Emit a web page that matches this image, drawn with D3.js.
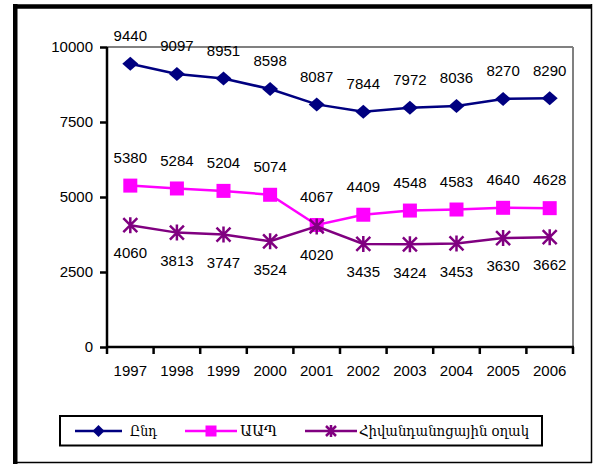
<!DOCTYPE html>
<html>
<head>
<meta charset="utf-8">
<script src="https://cdn.jsdelivr.net/npm/d3@7"></script>
<style>
  html, body { margin: 0; padding: 0; background: #fff; }
  svg { display: block; }
</style>
</head>
<body>
<svg id="chart" width="594" height="464"></svg>
<script>
const years = ["1997","1998","1999","2000","2001","2002","2003","2004","2005","2006"];
const totalValues = [9440, 9097, 8951, 8598, 8087, 7844, 7972, 8036, 8270, 8290];
const primaryValues = [5380, 5284, 5204, 5074, 4067, 4409, 4548, 4583, 4640, 4628];
const hospitalValues = [4060, 3813, 3747, 3524, 4020, 3435, 3424, 3453, 3630, 3662];
const seriesNames = ["Ընդ", "ԱԱՊ", "Հիվանդանոցային օղակ"];
const yTicks = [0, 2500, 5000, 7500, 10000];

const series = [
  { name: seriesNames[0], values: totalValues, color: "#000080", marker: "diamond", labelPos: "above" },
  { name: seriesNames[1], values: primaryValues, color: "#FF00FF", marker: "square", labelPos: "above" },
  { name: seriesNames[2], values: hospitalValues, color: "#800080", marker: "star", labelPos: "below" }
];

const svg = d3.select("#chart");
const font = "'Liberation Sans', Arial, sans-serif";

// Outer frame
svg.append("line").attr("x1", 15.25).attr("x2", 15.25).attr("y1", 4).attr("y2", 464).attr("stroke", "#000").attr("stroke-width", 4.5);
svg.append("line").attr("x1", 13).attr("x2", 592).attr("y1", 6.5).attr("y2", 6.5).attr("stroke", "#000").attr("stroke-width", 4.5);
svg.append("line").attr("x1", 591.5).attr("x2", 591.5).attr("y1", 4).attr("y2", 463).attr("stroke", "#000").attr("stroke-width", 1.5);
svg.append("line").attr("x1", 13).attr("x2", 592).attr("y1", 462.5).attr("y2", 462.5).attr("stroke", "#000").attr("stroke-width", 1.5);

const plot = { left: 107, right: 573, top: 47, bottom: 347 };

const x = d3.scaleBand().domain(years).range([plot.left, plot.right]).padding(0);
const y = d3.scaleLinear().domain([0, 10000]).range([plot.bottom, plot.top]);

// Plot area border (gray top and right)
svg.append("line").attr("x1", plot.left).attr("x2", plot.right).attr("y1", plot.top).attr("y2", plot.top).attr("stroke", "#808080").attr("stroke-width", 2);
svg.append("line").attr("x1", plot.right).attr("x2", plot.right).attr("y1", plot.top).attr("y2", plot.bottom).attr("stroke", "#808080").attr("stroke-width", 2);

// Y axis
const yAxis = svg.append("g").attr("transform", `translate(${plot.left},0)`)
  .call(d3.axisLeft(y).tickValues(yTicks).tickSize(7).tickPadding(7).tickFormat(d3.format("d")));
yAxis.select(".domain").attr("stroke", "#000").attr("stroke-width", 2.5).attr("d", `M0,${plot.bottom}V${plot.top}`);
yAxis.selectAll(".tick line").attr("stroke", "#000").attr("stroke-width", 2.5);
yAxis.selectAll(".tick text").attr("font-family", font).attr("font-size", 15).attr("fill", "#000");

// X axis
const boundaries = years.map(d => x(d)).concat([plot.right]);
const xAxis = svg.append("g").attr("transform", `translate(0,${plot.bottom})`)
  .call(d3.axisBottom(x).tickSize(0).tickPadding(18));
xAxis.select(".domain").attr("stroke", "#000").attr("stroke-width", 2.5).attr("d", `M${plot.left - 1},0H${plot.right + 1}`);
xAxis.selectAll(".tick text").attr("font-family", font).attr("font-size", 15).attr("fill", "#000");
xAxis.selectAll(".btick").data(boundaries).enter().append("line")
  .attr("x1", d => d).attr("x2", d => d).attr("y1", 0).attr("y2", 7)
  .attr("stroke", "#000").attr("stroke-width", 2.5);

// Marker drawing
function drawMarker(g, type, color, cx, cy) {
  if (type === "diamond") {
    g.append("path").attr("d", `M${cx},${cy - 7}L${cx + 8},${cy}L${cx},${cy + 7}L${cx - 8},${cy}Z`).attr("fill", color);
  } else if (type === "square") {
    const s = 7;
    g.append("rect").attr("x", cx - s).attr("y", cy - s).attr("width", 2 * s).attr("height", 2 * s).attr("fill", color);
  } else {
    const s = 7;
    g.append("path").attr("d", `M${cx - s},${cy - s}L${cx + s},${cy + s}M${cx - s},${cy + s}L${cx + s},${cy - s}M${cx},${cy - s - 1}L${cx},${cy + s + 1}`)
      .attr("stroke", color).attr("stroke-width", 2.5).attr("fill", "none");
  }
}

const cx = d => x(d) + x.bandwidth() / 2;

series.forEach(s => {
  const g = svg.append("g");
  const line = d3.line().x((v, i) => cx(years[i])).y(v => y(v));
  g.append("path").attr("d", line(s.values)).attr("fill", "none").attr("stroke", s.color).attr("stroke-width", 2.5);
  s.values.forEach((v, i) => drawMarker(g, s.marker, s.color, cx(years[i]), y(v)));
});

// Labels on top
series.forEach(s => {
  svg.append("g").selectAll("text").data(s.values).enter().append("text")
    .attr("x", (v, i) => cx(years[i]))
    .attr("y", v => y(v) + (s.labelPos === "above" ? -28 : 28))
    .attr("dy", "0.35em")
    .attr("text-anchor", "middle")
    .attr("font-family", font).attr("font-size", 15).attr("fill", "#000")
    .text(v => v);
});

// Legend
const legend = svg.append("g");
legend.append("rect").attr("x", 60).attr("y", 416).attr("width", 482).attr("height", 29.5).attr("fill", "#fff").attr("stroke", "#000").attr("stroke-width", 2);
const legendItems = [
  { x1: 75, x2: 122, tx: 130, tl: 27 },
  { x1: 185, x2: 237, tx: 240, tl: 37 },
  { x1: 305, x2: 357, tx: 359, tl: 170 }
];
series.forEach((s, i) => {
  const it = legendItems[i];
  const ly = 431;
  legend.append("line").attr("x1", it.x1).attr("x2", it.x2).attr("y1", ly).attr("y2", ly).attr("stroke", s.color).attr("stroke-width", 2.5);
  const g = legend.append("g");
  const mx = (it.x1 + it.x2) / 2;
  if (s.marker === "diamond") {
    g.append("path").attr("d", `M${mx},${ly - 6}L${mx + 6},${ly}L${mx},${ly + 6}L${mx - 6},${ly}Z`).attr("fill", s.color);
  } else if (s.marker === "square") {
    g.append("rect").attr("x", mx - 5.5).attr("y", ly - 5.5).attr("width", 11).attr("height", 11).attr("fill", s.color);
  } else {
    g.append("path").attr("d", `M${mx - 5},${ly - 5}L${mx + 5},${ly + 5}M${mx - 5},${ly + 5}L${mx + 5},${ly - 5}M${mx},${ly - 6}L${mx},${ly + 6}`)
      .attr("stroke", s.color).attr("stroke-width", 2.5);
  }
  legend.append("text").attr("x", it.tx).attr("y", ly).attr("dy", "0.38em")
    .attr("font-family", "'DejaVu Serif', 'DejaVu Sans', serif").attr("font-size", 14)
    .attr("textLength", it.tl).attr("lengthAdjust", "spacingAndGlyphs")
    .attr("fill", "#000")
    .text(s.name);
});
</script>
</body>
</html>
